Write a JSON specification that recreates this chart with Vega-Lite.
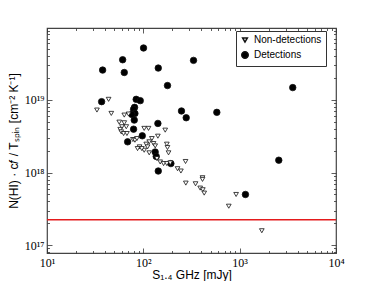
{
  "$schema": "https://vega.github.io/schema/vega-lite/v6.json",
  "width": 289,
  "height": 225,
  "autosize": "none",
  "padding": {"left": 47, "top": 28, "right": 38, "bottom": 28},
  "background": "white",
  "config": {
    "view": {"stroke": "#444", "strokeWidth": 1.2},
    "axis": {"grid": false, "domain": false, "labelFont": "Liberation Serif", "labelFontSize": 12, "labelColor": "#000", "titleFont": "Liberation Sans", "titleFontSize": 12, "titleFontWeight": "normal", "titleColor": "#000", "tickColor": "#333", "tickWidth": 0.8, "labelOverlap": false, "labelFlush": false}
  },
  "datasets": {
    "pts": [
      {"S": 100.5, "N": 5.20e19, "type": "Detections"},
      {"S": 61.0, "N": 3.58e19, "type": "Detections"},
      {"S": 37.8, "N": 2.58e19, "type": "Detections"},
      {"S": 63.4, "N": 2.39e19, "type": "Detections"},
      {"S": 142.9, "N": 2.75e19, "type": "Detections"},
      {"S": 331.9, "N": 3.51e19, "type": "Detections"},
      {"S": 178.2, "N": 1.58e19, "type": "Detections"},
      {"S": 3556, "N": 1.48e19, "type": "Detections"},
      {"S": 36.9, "N": 9.48e18, "type": "Detections"},
      {"S": 84.3, "N": 1.02e19, "type": "Detections"},
      {"S": 92.9, "N": 9.79e18, "type": "Detections"},
      {"S": 81.1, "N": 7.91e18, "type": "Detections"},
      {"S": 79.2, "N": 7.43e18, "type": "Detections"},
      {"S": 81.8, "N": 6.53e18, "type": "Detections"},
      {"S": 76.0, "N": 6.32e18, "type": "Detections"},
      {"S": 80.5, "N": 5.28e18, "type": "Detections"},
      {"S": 79.2, "N": 3.96e18, "type": "Detections"},
      {"S": 248.9, "N": 7.05e18, "type": "Detections"},
      {"S": 278.6, "N": 5.69e18, "type": "Detections"},
      {"S": 579.4, "N": 6.75e18, "type": "Detections"},
      {"S": 141.6, "N": 4.75e18, "type": "Detections"},
      {"S": 97.5, "N": 3.21e18, "type": "Detections"},
      {"S": 68.7, "N": 2.65e18, "type": "Detections"},
      {"S": 132.7, "N": 1.92e18, "type": "Detections"},
      {"S": 136.1, "N": 1.67e18, "type": "Detections"},
      {"S": 142.9, "N": 1.05e18, "type": "Detections"},
      {"S": 193.2, "N": 1.33e18, "type": "Detections"},
      {"S": 2547, "N": 1.48e18, "type": "Detections"},
      {"S": 1148, "N": 4.99e17, "type": "Detections"},
      {"S": 33.0, "N": 7.26e18, "type": "Non-detections"},
      {"S": 43.6, "N": 1.02e19, "type": "Non-detections"},
      {"S": 46.5, "N": 6.53e18, "type": "Non-detections"},
      {"S": 56.2, "N": 4.95e18, "type": "Non-detections"},
      {"S": 63.4, "N": 6.19e18, "type": "Non-detections"},
      {"S": 70.3, "N": 6.40e18, "type": "Non-detections"},
      {"S": 60.0, "N": 4.28e18, "type": "Non-detections"},
      {"S": 57.5, "N": 3.93e18, "type": "Non-detections"},
      {"S": 63.4, "N": 4.85e18, "type": "Non-detections"},
      {"S": 66.5, "N": 4.28e18, "type": "Non-detections"},
      {"S": 59.0, "N": 3.64e18, "type": "Non-detections"},
      {"S": 62.4, "N": 3.45e18, "type": "Non-detections"},
      {"S": 67.6, "N": 3.45e18, "type": "Non-detections"},
      {"S": 78.0, "N": 2.85e18, "type": "Non-detections"},
      {"S": 81.8, "N": 2.79e18, "type": "Non-detections"},
      {"S": 85.8, "N": 2.94e18, "type": "Non-detections"},
      {"S": 102.1, "N": 4.06e18, "type": "Non-detections"},
      {"S": 113.2, "N": 4.06e18, "type": "Non-detections"},
      {"S": 168.7, "N": 3.84e18, "type": "Non-detections"},
      {"S": 141.6, "N": 3.17e18, "type": "Non-detections"},
      {"S": 122.7, "N": 2.94e18, "type": "Non-detections"},
      {"S": 115.1, "N": 2.65e18, "type": "Non-detections"},
      {"S": 107.2, "N": 2.46e18, "type": "Non-detections"},
      {"S": 110.7, "N": 2.26e18, "type": "Non-detections"},
      {"S": 102.1, "N": 2.03e18, "type": "Non-detections"},
      {"S": 115.1, "N": 1.87e18, "type": "Non-detections"},
      {"S": 91.4, "N": 2.26e18, "type": "Non-detections"},
      {"S": 87.1, "N": 2.14e18, "type": "Non-detections"},
      {"S": 96.5, "N": 2.14e18, "type": "Non-detections"},
      {"S": 127.6, "N": 2.51e18, "type": "Non-detections"},
      {"S": 132.8, "N": 2.33e18, "type": "Non-detections"},
      {"S": 175.4, "N": 2.46e18, "type": "Non-detections"},
      {"S": 178.1, "N": 2.21e18, "type": "Non-detections"},
      {"S": 182.6, "N": 1.87e18, "type": "Non-detections"},
      {"S": 138.4, "N": 1.56e18, "type": "Non-detections"},
      {"S": 149.6, "N": 1.40e18, "type": "Non-detections"},
      {"S": 162.2, "N": 1.33e18, "type": "Non-detections"},
      {"S": 175.4, "N": 1.33e18, "type": "Non-detections"},
      {"S": 190.1, "N": 1.36e18, "type": "Non-detections"},
      {"S": 226.5, "N": 1.13e18, "type": "Non-detections"},
      {"S": 245.5, "N": 1.05e18, "type": "Non-detections"},
      {"S": 274.2, "N": 1.42e18, "type": "Non-detections"},
      {"S": 276.1, "N": 7.16e17, "type": "Non-detections"},
      {"S": 348.3, "N": 7.01e17, "type": "Non-detections"},
      {"S": 411.4, "N": 8.49e17, "type": "Non-detections"},
      {"S": 411.4, "N": 8.05e17, "type": "Non-detections"},
      {"S": 389.2, "N": 6.11e17, "type": "Non-detections"},
      {"S": 414.7, "N": 5.80e17, "type": "Non-detections"},
      {"S": 428.5, "N": 5.21e17, "type": "Non-detections"},
      {"S": 770.9, "N": 3.44e17, "type": "Non-detections"},
      {"S": 918.4, "N": 4.99e17, "type": "Non-detections"},
      {"S": 1698, "N": 1.58e17, "type": "Non-detections"}
    ],
    "limit": [{"N": 2.24e17}]
  },
  "resolve": {"scale": {"x": "shared", "y": "shared"}, "axis": {"x": "independent", "y": "independent"}},
  "layer": [
    {
      "data": {"name": "limit"},
      "mark": {"type": "rule", "color": "#e41a1c", "strokeWidth": 1.5},
      "encoding": {
        "y": {"field": "N", "type": "quantitative", "scale": {"type": "log", "domain": [7.8e16, 9.8e19], "nice": false}, "axis": null}
      }
    },
    {
      "data": {"name": "pts"},
      "mark": {"type": "point", "filled": false, "stroke": "#111", "strokeWidth": 0.8, "opacity": 1},
      "encoding": {
        "x": {"field": "S", "type": "quantitative",
          "scale": {"type": "log", "domain": [10, 10000], "nice": false},
          "axis": {"orient": "bottom", "title": "S₁.₄ GHz [mJy]", "titlePadding": -1,
            "values": [10,20,30,40,50,60,70,80,90,100,200,300,400,500,600,700,800,900,1000,2000,3000,4000,5000,6000,7000,8000,9000,10000],
            "labelExpr": "datum.value == 10 ? '10¹' : datum.value == 100 ? '10²' : datum.value == 1000 ? '10³' : datum.value == 10000 ? '10⁴' : ''",
            "tickSize": {"condition": {"test": "datum.value == 10 || datum.value == 100 || datum.value == 1000 || datum.value == 10000", "value": -5}, "value": -2.5},
            "labelPadding": 9}},
        "y": {"field": "N", "type": "quantitative",
          "scale": {"type": "log", "domain": [7.8e16, 9.8e19], "nice": false},
          "axis": {"orient": "left", "title": "N(HI) · c𝑓 / Tₛₚᵢₙ [cm⁻² K⁻¹]", "titlePadding": 4,
            "values": [8e16,9e16,1e17,2e17,3e17,4e17,5e17,6e17,7e17,8e17,9e17,1e18,2e18,3e18,4e18,5e18,6e18,7e18,8e18,9e18,1e19,2e19,3e19,4e19,5e19,6e19,7e19,8e19,9e19],
            "labelExpr": "datum.value == 1e17 ? '10¹⁷' : datum.value == 1e18 ? '10¹⁸' : datum.value == 1e19 ? '10¹⁹' : ''",
            "tickSize": {"condition": {"test": "datum.value == 1e17 || datum.value == 1e18 || datum.value == 1e19", "value": -5}, "value": -2.5},
            "labelPadding": 8}},
        "shape": {"field": "type", "type": "nominal", "scale": {"domain": ["Non-detections", "Detections"], "range": ["triangle-down", "circle"]},
          "legend": {"title": null, "orient": "none", "legendX": 189, "legendY": 3, "fillColor": "white", "strokeColor": "#333", "padding": 4, "labelFont": "Liberation Sans", "labelFontSize": 10, "labelColor": "#000", "labelLimit": 200, "symbolStrokeColor": "#111", "rowPadding": 2}},
        "fill": {"field": "type", "type": "nominal", "scale": {"domain": ["Non-detections", "Detections"], "range": ["white", "black"]}},
        "size": {"field": "type", "type": "nominal", "scale": {"domain": ["Non-detections", "Detections"], "range": [22, 42]}}
      }
    },
    {
      "data": {"name": "pts"},
      "mark": {"type": "point", "opacity": 0},
      "encoding": {
        "x": {"field": "S", "type": "quantitative",
          "axis": {"orient": "top", "title": null, "labels": false,
            "values": [10,20,30,40,50,60,70,80,90,100,200,300,400,500,600,700,800,900,1000,2000,3000,4000,5000,6000,7000,8000,9000,10000],
            "tickSize": {"condition": {"test": "datum.value == 10 || datum.value == 100 || datum.value == 1000 || datum.value == 10000", "value": -5}, "value": -2.5}}},
        "y": {"field": "N", "type": "quantitative",
          "axis": {"orient": "right", "title": null, "labels": false,
            "values": [8e16,9e16,1e17,2e17,3e17,4e17,5e17,6e17,7e17,8e17,9e17,1e18,2e18,3e18,4e18,5e18,6e18,7e18,8e18,9e18,1e19,2e19,3e19,4e19,5e19,6e19,7e19,8e19,9e19],
            "tickSize": {"condition": {"test": "datum.value == 1e17 || datum.value == 1e18 || datum.value == 1e19", "value": -5}, "value": -2.5}}}
      }
    }
  ]
}
